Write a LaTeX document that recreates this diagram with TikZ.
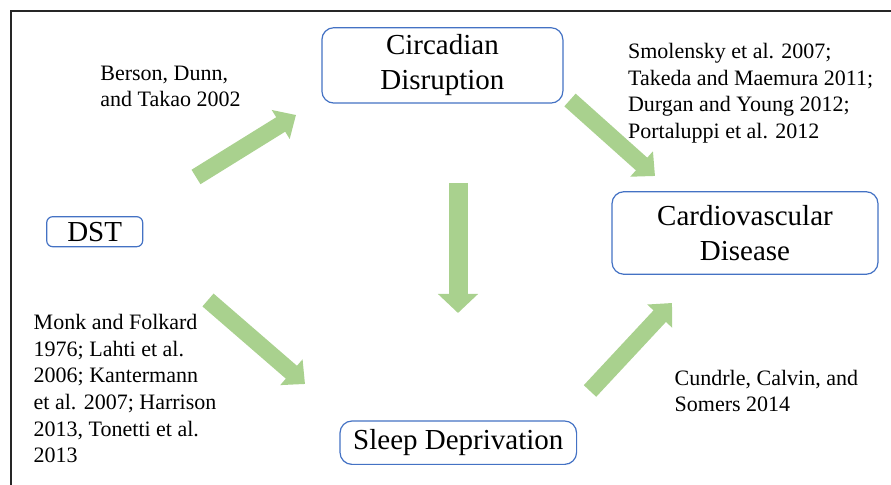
\documentclass[tikz,border=0pt]{standalone}
\usepackage{fontspec}
\setmainfont{Liberation Serif}
\usetikzlibrary{arrows.meta}
\definecolor{boxblue}{HTML}{4472C4}
\definecolor{arrowgreen}{HTML}{A9D18E}
\begin{document}
\begin{tikzpicture}[x=0.5pt,y=-0.5pt]
        \tikzstyle{factor}=[draw=boxblue,line width=0.6pt,rounded corners=6pt,fill=white,align=center,inner sep=0pt,font=\fontsize{14.5}{17.5}\selectfont]
        \tikzstyle{cite}=[align=left,inner sep=0pt,anchor=base west,font=\fontsize{11}{13.3}\selectfont]
        \tikzstyle{flow}=[draw=arrowgreen,line width=8.5pt,-{Triangle[width=16.5pt,length=9pt]}]
        \useasboundingbox (0,0) rectangle (891,485);
        % frame
        \draw[line width=0.75pt,black!85] (891,11) -- (11,11) -- (11,485);
        \begin{scope}
            \node [factor,minimum width=120.5pt,minimum height=37.7pt] (circ) at (442.4,65.4) {Circadian\\Disruption};
            \node [factor,minimum width=48pt,minimum height=15pt,rounded corners=3pt] (dst) at (94.7,231.7) {DST};
            \node [factor,minimum width=133pt,minimum height=41.3pt] (cardio) at (745,233) {Cardiovascular\\Disease};
            \node [factor,minimum width=118.3pt,minimum height=21.7pt] (sleep) at (458.3,442.7) {Sleep Deprivation};
            % citations, placed at the baseline of their last line
            \node [cite] (cberson) at (100,107) {Berson, Dunn,\\and Takao 2002};
            \node [cite] (csmol) at (627.7,138.3) {Smolensky et al. 2007;\\Takeda and Maemura 2011;\\Durgan and Young 2012;\\Portaluppi et al. 2012};
            \node [cite] (cmonk) at (33.3,462.7) {Monk and Folkard\\1976; Lahti et al.\\2006; Kantermann\\et al. 2007; Harrison\\2013, Tonetti et al.\\2013};
            \node [cite] (ccund) at (674.3,411.7) {Cundrle, Calvin, and\\Somers 2014};
            % arrow ends
            \coordinate (a1t) at (196,177);
            \coordinate (a1h) at (296,115);
            \coordinate (a2t) at (570,100);
            \coordinate (a2h) at (655,176);
            \coordinate (a3t) at (208,300);
            \coordinate (a3h) at (305,384);
            \coordinate (a4t) at (590,391);
            \coordinate (a4h) at (672,303);
            \coordinate (a5t) at (458,183);
            \coordinate (a5h) at (458,313);
            \draw[flow] (a1t) -- (a1h);
            \draw[flow] (a2t) -- (a2h);
            \draw[flow] (a3t) -- (a3h);
            \draw[flow] (a4t) -- (a4h);
            \draw[flow,line width=9.5pt,-{Triangle[width=19.5pt,length=9.5pt]}] (a5t) -- (a5h);
        \end{scope}
\end{tikzpicture}
\end{document}
